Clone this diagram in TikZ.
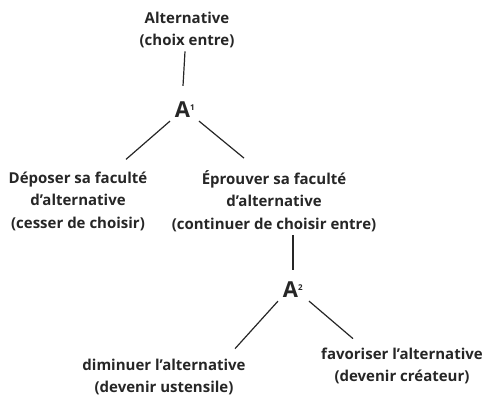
\documentclass[tikz,border=0pt]{standalone}
\usepackage{fontspec}
\setmainfont{Open Sans}
\begin{document}
\begin{tikzpicture}[x=1pt,y=-1pt,
  lbl/.style={align=center,inner sep=0pt,font=\bfseries\fontsize{15}{22.5}\selectfont,text=black!85},
  bigA/.style={inner sep=0pt,font=\bfseries\fontsize{22}{22}\selectfont,text=black!85},
  link/.style={line width=1.2pt,draw=black!85}]
\useasboundingbox (0,0) rectangle (486,396);
\node[lbl] (top) at (187,30) {Alternative\\(choix entre)};
\node[bigA] (a1) at (185,110) {A\textsuperscript{\fontsize{8}{8}\selectfont 1}};
\node[lbl] (lnode) at (78,201) {Déposer sa faculté\\d’alternative\\(cesser de choisir)};
\node[lbl] (rnode) at (274,201) {Éprouver sa faculté\\d’alternative\\(continuer de choisir entre)};
\node[bigA] (a2) at (293,290) {A\textsuperscript{\fontsize{8}{8}\selectfont 2}};
\node[lbl] (bl) at (164,377) {diminuer l’alternative\\(devenir ustensile)};
\node[lbl] (br) at (402,366) {favoriser l’alternative\\(devenir créateur)};
\draw[link] ([xshift=-2pt,yshift=-3pt]top.south) -- ([xshift=-2pt,yshift=16pt]a1.north);
\draw[link] ([xshift=-15pt,yshift=-3pt]a1.south) -- ([xshift=48pt,yshift=12pt]lnode.north);
\draw[link] ([xshift=14pt,yshift=-3pt]a1.south) -- ([xshift=-30pt,yshift=12pt]rnode.north);
\draw[link] ([xshift=19pt,yshift=-3pt]rnode.south) -- ([xshift=0pt,yshift=12pt]a2.north);
\draw[link] ([xshift=-15pt,yshift=-3pt]a2.south) -- ([xshift=71pt,yshift=10pt]bl.north);
\draw[link] ([xshift=16pt,yshift=-3pt]a2.south) -- ([xshift=-49pt,yshift=9pt]br.north);
\end{tikzpicture}
\end{document}
